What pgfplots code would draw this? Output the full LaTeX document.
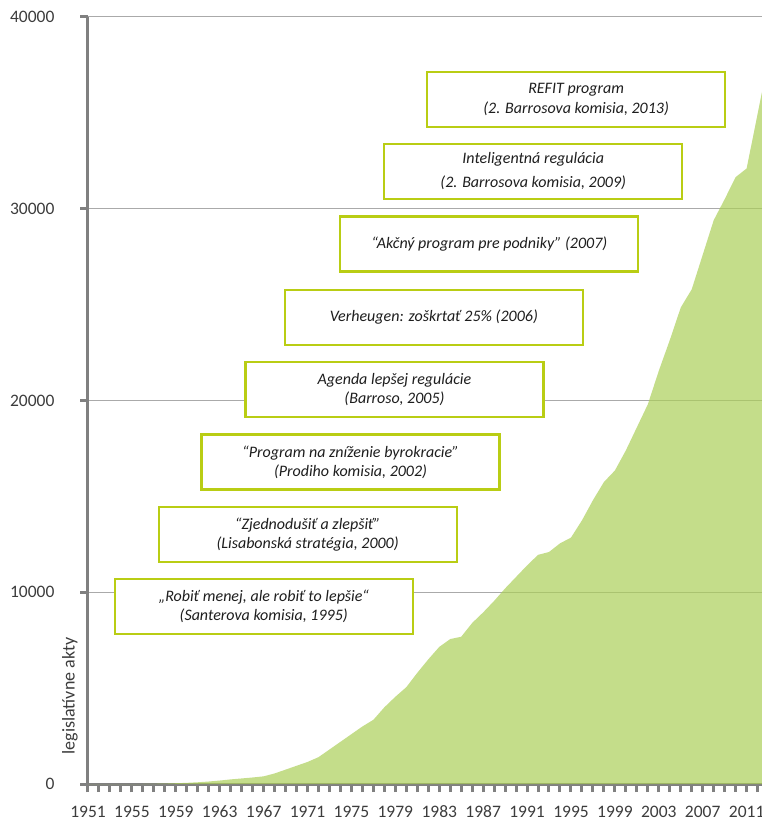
\documentclass[border=0pt]{standalone}
\usepackage{fontspec}
\setmainfont{Carlito}
\usepackage{pgfplots}
\pgfplotsset{compat=1.18}
\definecolor{areagreen}{RGB}{171,206,88}
\definecolor{boxgreen}{RGB}{185,205,20}
\definecolor{axgray}{RGB}{128,128,128}
\definecolor{gridgray}{RGB}{170,170,170}
\definecolor{lblgray}{RGB}{60,60,60}
\definecolor{txtgray}{RGB}{30,30,30}
\begin{document}
\begin{tikzpicture}
\useasboundingbox (-88pt,-39pt) rectangle (674pt,784pt);
\begin{axis}[
  at={(0,0)}, anchor=south west,
  scale only axis, width=674pt, height=767pt,
  xmin=1951, xmax=2012.4, ymin=0, ymax=40000,
  axis x line*=bottom, axis y line*=left,
  axis line style={axgray, line width=3pt},
  xtick={1951,1955,...,2011},
  minor xtick={1951,...,2012},
  ytick={0,10000,...,40000},
  tick align=outside,
  major tick length=8pt, minor tick length=8pt,
  tick style={axgray, line width=3pt},
  minor tick style={axgray, line width=3pt},
  ymajorgrids,
  grid style={gridgray, line width=1pt},
  scaled y ticks=false,
  /pgf/number format/1000 sep={},
  /pgf/number format/assume math mode=true,
  ticklabel style={font=\fontsize{17.5}{18}\selectfont, text=lblgray},
  yticklabel style={xshift=-22pt},
  xticklabel style={yshift=-10.5pt},
  clip mode=individual,
]
\addplot[draw=none, fill=areagreen, fill opacity=0.7] coordinates {
(1951,0) (1952,0) (1953,0) (1954,0) (1955,0) (1956,0) (1957,10) (1958,20)
(1959,40) (1960,60) (1961,90) (1962,130) (1963,180) (1964,240) (1965,290)
(1966,340) (1967,400) (1968,550) (1969,750) (1970,950) (1971,1150)
(1972,1400) (1973,1800) (1974,2200) (1975,2600) (1976,3000) (1977,3350)
(1978,4000) (1979,4550) (1980,5050) (1981,5800) (1982,6500) (1983,7150)
(1984,7560) (1985,7680) (1986,8400) (1987,8950) (1988,9550) (1989,10200)
(1990,10800) (1991,11400) (1992,11950) (1993,12100) (1994,12550)
(1995,12850) (1996,13750) (1997,14800) (1998,15750) (1999,16350)
(2000,17400) (2001,18600) (2002,19800) (2003,21550) (2004,23150)
(2005,24850) (2006,25800) (2007,27600) (2008,29400) (2009,30500)
(2010,31650) (2011,32100) (2012,34950) (2012.4,36100)
} \closedcycle;

\tikzset{ann/.style={draw=boxgreen, line width=2.2pt, fill=white,
  minimum width=298pt, minimum height=55pt, inner sep=0pt, align=center,
  text=txtgray, font=\fontsize{16}{19}\selectfont\itshape}}
\node[ann] at (axis cs:1967.01,9257) {„Robiť menej, ale robiť to lepšie“\\(Santerova komisia, 1995)};
\node[ann] at (axis cs:1971.01,13012) {“Zjednodušiť a zlepšiť”\\(Lisabonská stratégia, 2000)};
\node[ann] at (axis cs:1974.92,16792) {“Program na zníženie byrokracie”\\(Prodiho komisia, 2002)};
\node[ann] at (axis cs:1978.92,20573) {Agenda lepšej regulácie\\(Barroso, 2005)};
\node[ann] at (axis cs:1982.51,24328) {Verheugen: zoškrtať 25\% (2006)};
\node[ann] at (axis cs:1987.56,28161) {“Akčný program pre podniky” (2007)};
\node[ann, font=\fontsize{16}{24}\selectfont\itshape] at (axis cs:1991.56,31942) {Inteligentná regulácia\\(2. Barrosova komisia, 2009)};
\node[ann, font=\fontsize{16}{20}\selectfont\itshape] at (axis cs:1995.47,35697) {REFIT program\\(2. Barrosova komisia, 2013)};
\node[rotate=90, text=lblgray, font=\fontsize{18}{18}\selectfont] at (axis cs:1949.36,4589) {legislatívne akty};
\end{axis}
\end{tikzpicture}
\end{document}
